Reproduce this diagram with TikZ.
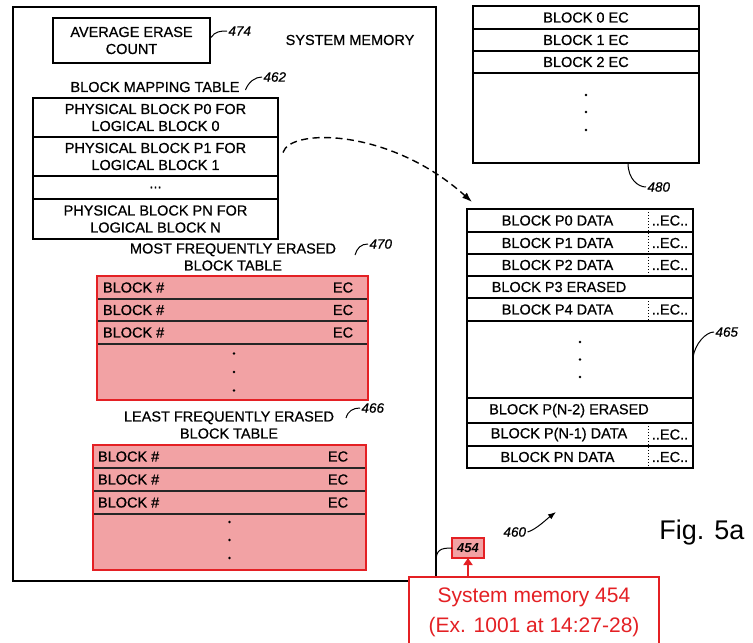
\documentclass[tikz,border=0pt]{standalone}
\usepackage{fontspec}
\setmainfont{Liberation Sans}
\newfontfamily\patentfont{Liberation Sans}[FakeBold=0.7]
\usepackage{tikz}
\usetikzlibrary{arrows.meta}
\definecolor{hired}{RGB}{228,32,36}
\definecolor{hipink}{RGB}{242,162,164}

\begin{document}
\begin{tikzpicture}[x=1pt,y=-1pt]
	\tikzstyle{every node}+=[inner sep=0pt, outer sep=0pt, font=\patentfont\fontsize{14.5}{17}\selectfont]
	\tikzstyle{box}=[draw, line width=1.1pt]
	\tikzstyle{redrow}=[fill=hipink]
	\tikzstyle{refnum}=[inner sep=1.5pt, font=\patentfont\fontsize{13.5}{16}\selectfont\itshape]
	\tikzstyle{leader}=[line width=1pt]
	\useasboundingbox (0,0) rectangle (753,643);
	\clip (0,0) rectangle (753,643);
	% system memory
	\node [box, minimum width=423pt, minimum height=574pt] (sysmem) at (224.5,294) {};
	\node (sysmemlbl) at (350,40) {SYSTEM MEMORY};
	\node [box, minimum width=157pt, minimum height=45pt, align=center] (avgec) at (131.5,40.5) {AVERAGE ERASE\\COUNT};
	\node [refnum, anchor=west] (n474) at (227,31) {474};
	\draw [leader] ([shift={(1,-3)}]avgec.east) .. controls +(4,-6) and +(-7,0) .. (n474.west);
	% block mapping table
	\node (bmtlbl) at (155,87) {BLOCK MAPPING TABLE};
	\node [refnum, anchor=west] (n462) at (262,77) {462};
	\draw [leader] ([shift={(6,3)}]bmtlbl.east) .. controls +(3,-8) and +(-7,0) .. (n462.west);
	\node [box, minimum width=245pt, minimum height=39pt, align=center] (bmt1) at (155.5,117.5) {PHYSICAL BLOCK P0 FOR\\LOGICAL BLOCK 0};
	\node [box, minimum width=245pt, minimum height=39pt, align=center] (bmt2) at (155.5,156.5) {PHYSICAL BLOCK P1 FOR\\LOGICAL BLOCK 1};
	\node [box, minimum width=245pt, minimum height=23pt] (bmt3) at (155.5,187.5) {...};
	\node [box, minimum width=245pt, minimum height=40pt, align=center] (bmt4) at (155.5,219) {PHYSICAL BLOCK PN FOR\\LOGICAL BLOCK N};
	% most frequently erased block table
	\node [align=center] (mfelbl) at (233,257) {MOST FREQUENTLY ERASED\\BLOCK TABLE};
	\coordinate (c470) at (355,255);
	\node [refnum, anchor=west] (n470) at (368,244) {470};
	\draw [leader] (c470) .. controls +(2,-7) and +(-7,0) .. (n470.west);
	\node [redrow, minimum width=271pt, minimum height=23pt] (mfe1) at (232.5,287.5) {};
	\node [redrow, minimum width=271pt, minimum height=22pt] (mfe2) at (232.5,310) {};
	\node [redrow, minimum width=271pt, minimum height=23pt] (mfe3) at (232.5,332.5) {};
	\node [redrow, minimum width=271pt, minimum height=56pt] (mfe4) at (232.5,372) {};
	\draw [line width=1.3pt, black!85] (mfe1.south west) -- (mfe1.south east);
	\draw [line width=1.3pt, black!85] (mfe2.south west) -- (mfe2.south east);
	\draw [line width=1.3pt, black!85] (mfe3.south west) -- (mfe3.south east);
	\draw [hired, line width=2.5pt] (mfe1.north west) rectangle (mfe4.south east);
	\node [anchor=west] (mfe1a) at ([xshift=6pt]mfe1.west) {BLOCK \#};
	\node (mfe1b) at ([xshift=-25pt]mfe1.east) {EC};
	\node [anchor=west] (mfe2a) at ([xshift=6pt]mfe2.west) {BLOCK \#};
	\node (mfe2b) at ([xshift=-25pt]mfe2.east) {EC};
	\node [anchor=west] (mfe3a) at ([xshift=6pt]mfe3.west) {BLOCK \#};
	\node (mfe3b) at ([xshift=-25pt]mfe3.east) {EC};
	\fill ([shift={(1.5,-18.5)}]mfe4.center) circle (1.3pt);
	\fill ([xshift=1.5pt]mfe4.center) circle (1.3pt);
	\fill ([shift={(1.5,18.5)}]mfe4.center) circle (1.3pt);
	% least frequently erased block table
	\node [align=center] (lfelbl) at (229,425) {LEAST FREQUENTLY ERASED\\BLOCK TABLE};
	\coordinate (c466) at (346,418);
	\node [refnum, anchor=west] (n466) at (360,408) {466};
	\draw [leader] (c466) .. controls +(2,-7) and +(-7,0) .. (n466.west);
	\node [redrow, minimum width=273pt, minimum height=23pt] (lfe1) at (229.5,456.5) {};
	\node [redrow, minimum width=273pt, minimum height=23pt] (lfe2) at (229.5,479.5) {};
	\node [redrow, minimum width=273pt, minimum height=23pt] (lfe3) at (229.5,502.5) {};
	\node [redrow, minimum width=273pt, minimum height=56pt] (lfe4) at (229.5,542) {};
	\draw [line width=1.3pt, black!85] (lfe1.south west) -- (lfe1.south east);
	\draw [line width=1.3pt, black!85] (lfe2.south west) -- (lfe2.south east);
	\draw [line width=1.3pt, black!85] (lfe3.south west) -- (lfe3.south east);
	\draw [hired, line width=2.5pt] (lfe1.north west) rectangle (lfe4.south east);
	\node [anchor=west] (lfe1a) at ([xshift=5pt]lfe1.west) {BLOCK \#};
	\node (lfe1b) at ([xshift=-28pt]lfe1.east) {EC};
	\node [anchor=west] (lfe2a) at ([xshift=5pt]lfe2.west) {BLOCK \#};
	\node (lfe2b) at ([xshift=-28pt]lfe2.east) {EC};
	\node [anchor=west] (lfe3a) at ([xshift=5pt]lfe3.west) {BLOCK \#};
	\node (lfe3b) at ([xshift=-28pt]lfe3.east) {EC};
	\fill ([yshift=20pt]lfe4.center) circle (1.3pt);
	\fill ([yshift=2pt]lfe4.center) circle (1.3pt);
	\fill ([yshift=-16pt]lfe4.center) circle (1.3pt);
	% erase count table
	\node [box, minimum width=226pt, minimum height=23pt] (ec0) at (586,17.5) {BLOCK 0 EC};
	\node [box, minimum width=226pt, minimum height=22pt] (ec1) at (586,40) {BLOCK 1 EC};
	\node [box, minimum width=226pt, minimum height=22pt] (ec2) at (586,62) {BLOCK 2 EC};
	\node [box, minimum width=226pt, minimum height=90pt] (ec3) at (586,118) {};
	\fill ([yshift=23pt]ec3.center) circle (1.3pt);
	\fill ([yshift=6pt]ec3.center) circle (1.3pt);
	\fill ([yshift=-12pt]ec3.center) circle (1.3pt);
	\node [refnum, anchor=west] (n480) at (646,187) {480};
	\draw [leader] ([xshift=42pt]ec3.south) .. controls +(0,16) and +(-8,0) .. (n480.west);
	% flash memory blocks
	\node [box, minimum width=226pt, minimum height=23pt] (dat0) at (580,220.5) {};
	\node [box, minimum width=226pt, minimum height=22pt] (dat1) at (580,243) {};
	\node [box, minimum width=226pt, minimum height=22pt] (dat2) at (580,265) {};
	\node [box, minimum width=226pt, minimum height=22pt] (dat3) at (580,287) {};
	\node [box, minimum width=226pt, minimum height=23pt] (dat4) at (580,309.5) {};
	\node [box, minimum width=226pt, minimum height=77pt] (datdots) at (580,359.5) {};
	\node [box, minimum width=226pt, minimum height=25pt] (datn2) at (580,410.5) {};
	\node [box, minimum width=226pt, minimum height=23pt] (datn1) at (580,434.5) {};
	\node [box, minimum width=226pt, minimum height=22pt] (datn) at (580,457) {};
	\node (dat0a) at ([xshift=-22.5pt]dat0.center) {BLOCK P0 DATA};
	\node (dat0b) at ([xshift=90pt]dat0.center) {..EC..};
	\node (dat1a) at ([xshift=-22.5pt]dat1.center) {BLOCK P1 DATA};
	\node (dat1b) at ([xshift=90pt]dat1.center) {..EC..};
	\node (dat2a) at ([xshift=-22.5pt]dat2.center) {BLOCK P2 DATA};
	\node (dat2b) at ([xshift=90pt]dat2.center) {..EC..};
	\node (dat3a) at ([xshift=-21pt]dat3.center) {BLOCK P3 ERASED};
	\node (dat4a) at ([xshift=-22.5pt]dat4.center) {BLOCK P4 DATA};
	\node (dat4b) at ([xshift=90pt]dat4.center) {..EC..};
	\node (datn2a) at ([xshift=-11pt]datn2.center) {BLOCK P(N-2) ERASED};
	\node (datn1a) at ([xshift=-21pt]datn1.center) {BLOCK P(N-1) DATA};
	\node (datn1b) at ([xshift=90pt]datn1.center) {..EC..};
	\node (datna) at ([xshift=-22.5pt]datn.center) {BLOCK PN DATA};
	\node (datnb) at ([xshift=90pt]datn.center) {..EC..};
	\draw [dotted, line width=1pt] ([xshift=68pt]dat0.north) -- ([xshift=68pt]dat2.south);
	\draw [dotted, line width=1pt] ([xshift=68pt]dat4.north) -- ([xshift=68pt]dat4.south);
	\draw [dotted, line width=1pt] ([xshift=68pt]datn1.north) -- ([xshift=68pt]datn.south);
	\fill ([yshift=17.5pt]datdots.center) circle (1.3pt);
	\fill (datdots.center) circle (1.3pt);
	\fill ([yshift=-17.5pt]datdots.center) circle (1.3pt);
	\node [refnum, anchor=west] (n465) at (714,332) {465};
	\draw [leader] ([yshift=2pt]datdots.east) .. controls +(2,-14) and +(-8,0) .. (n465.west);
	% mapping arrow
	\draw [line width=1.4pt, dash pattern=on 7pt off 4.5pt, -{Latex[length=10pt,width=7pt]}] ([shift={(5,-4)}]bmt2.east) .. controls (290,128) and (390,128) .. ([shift={(5,-7)}]dat0.north west);
	% figure refs
	\node [refnum, anchor=west] (n460) at (502,532) {460};
	\coordinate (c460) at (556,512);
	\draw [leader, -{Latex[length=8pt,width=6pt]}] (n460.east) .. controls +(8,-2) and +(-8,6) .. (c460);
	\node [font=\fontsize{27}{30}\selectfont] (figlbl) at (702,533) {Fig. 5a};
	% callout
	\node [draw=hired, line width=2pt, fill=hipink, minimum width=32pt, minimum height=20pt, font=\fontsize{13}{15}\selectfont\bfseries\itshape] (b454) at (468,548) {454};
	\draw [leader] (b454.west) .. controls +(-12,0) and +(0,-12) .. ([yshift=19pt]sysmem.south east);
	\node [draw=hired, line width=2.5pt, fill=white, text=hired, anchor=north west, minimum width=250pt, minimum height=70pt, align=center, font=\fontsize{21}{30}\selectfont] (callout) at (409,577) {System memory 454\\(Ex. 1001 at 14:27-28)};
	\draw [hired, line width=2.5pt, -{Triangle[length=7pt,width=9pt]}] (callout.north -| b454.south) -- (b454.south);
\end{tikzpicture}
\end{document}
